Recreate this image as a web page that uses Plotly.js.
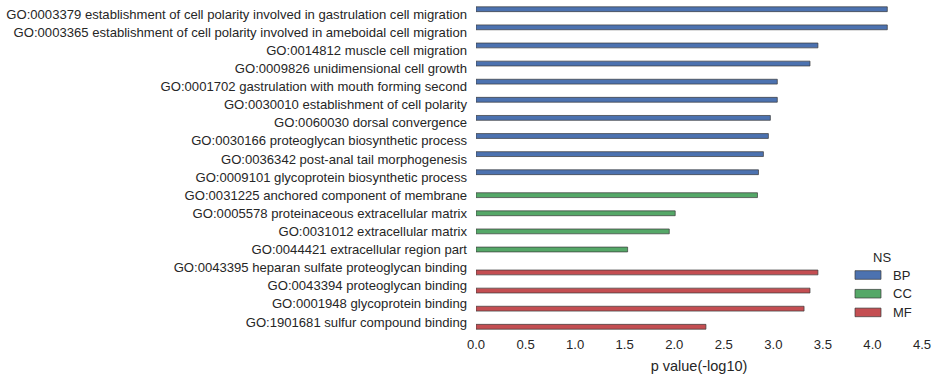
<!DOCTYPE html>
<html>
<head>
<meta charset="utf-8">
<script src="https://cdn.plot.ly/plotly-3.0.1.min.js"></script>
<style>html,body{margin:0;padding:0;background:#fff;}#chart{width:938px;height:379px;}</style>
</head>
<body>
<div id="chart"></div>
<script>
const categories = [
  "GO:0003379 establishment of cell polarity involved in gastrulation cell migration",
  "GO:0003365 establishment of cell polarity involved in ameboidal cell migration",
  "GO:0014812 muscle cell migration",
  "GO:0009826 unidimensional cell growth",
  "GO:0001702 gastrulation with mouth forming second",
  "GO:0030010 establishment of cell polarity",
  "GO:0060030 dorsal convergence",
  "GO:0030166 proteoglycan biosynthetic process",
  "GO:0036342 post-anal tail morphogenesis",
  "GO:0009101 glycoprotein biosynthetic process",
  "GO:0031225 anchored component of membrane",
  "GO:0005578 proteinaceous extracellular matrix",
  "GO:0031012 extracellular matrix",
  "GO:0044421 extracellular region part",
  "GO:0043395 heparan sulfate proteoglycan binding",
  "GO:0043394 proteoglycan binding",
  "GO:0001948 glycoprotein binding",
  "GO:1901681 sulfur compound binding"
];
const namespaces = ["BP","BP","BP","BP","BP","BP","BP","BP","BP","BP","CC","CC","CC","CC","MF","MF","MF","MF"];
const pvalues = [4.15, 4.15, 3.45, 3.37, 3.04, 3.04, 2.97, 2.95, 2.90, 2.85, 2.84, 2.01, 1.95, 1.53, 3.45, 3.37, 3.31, 2.32];
const nsOrder = ["BP","CC","MF"];
const nsColors = {BP: "#4C72B0", CC: "#55A868", MF: "#C44E52"};
const xTicks = [0.0, 0.5, 1.0, 1.5, 2.0, 2.5, 3.0, 3.5, 4.0, 4.5];

const W = 938, H = 379;
const M = {l: 476, r: 16, t: 5, b: 48};
const plotW = W - M.l - M.r, plotH = H - M.t - M.b;
const px = x => (x - M.l) / plotW;
const py = y => (H - M.b - y) / plotH;

const traces = nsOrder.map(ns => ({
  type: "bar",
  orientation: "h",
  name: ns,
  y: categories,
  x: pvalues.map((v, i) => namespaces[i] === ns ? v : null),
  marker: {color: nsColors[ns], line: {color: "#3a3a3a", width: 0.7}},
  hoverinfo: "x+y",
  showlegend: false
}));

// legend (drawn in paper space)
const legTop = 275, legStep = 18.7;
const shapes = nsOrder.map((ns, i) => ({
  type: "rect", xref: "paper", yref: "paper",
  x0: px(855), x1: px(881),
  y0: py(legTop + i * legStep - 4.3), y1: py(legTop + i * legStep + 4.3),
  fillcolor: nsColors[ns], line: {color: "#3a3a3a", width: 0.7}
}));
const annotations = nsOrder.map((ns, i) => ({
  xref: "paper", yref: "paper", x: px(891), y: py(legTop + i * legStep),
  xanchor: "left", yanchor: "middle", text: ns, showarrow: false,
  font: {size: 13, color: "#262626"}
}));
annotations.push({
  xref: "paper", yref: "paper", x: px(882), y: py(257.5),
  xanchor: "center", yanchor: "middle", text: "NS", showarrow: false,
  font: {size: 13, color: "#262626"}
});

const layout = {
  width: W, height: H,
  margin: {l: M.l, r: M.r, t: M.t, b: M.b, pad: 0},
  paper_bgcolor: "#ffffff", plot_bgcolor: "#ffffff",
  font: {family: "Liberation Sans, Arial, sans-serif", size: 13.1, color: "#262626"},
  barmode: "group", bargap: 0.2, bargroupgap: 0,
  xaxis: {
    range: [0, 4.5], tickvals: xTicks, ticktext: xTicks.map(v => v.toFixed(1)),
    showgrid: false, zeroline: false, showline: false, ticks: "",
    ticklabelstandoff: 4,
    tickfont: {size: 13.1}, title: {text: "p value(-log10)", font: {size: 14.5}, standoff: 9}
  },
  yaxis: {
    type: "category", autorange: "reversed", showgrid: false, zeroline: false,
    showline: false, ticks: "", ticklabelstandoff: 8, tickfont: {size: 13.1}
  },
  shapes: shapes,
  annotations: annotations,
  showlegend: false
};

Plotly.newPlot("chart", traces, layout, {displayModeBar: false, staticPlot: true});
</script>
</body>
</html>
